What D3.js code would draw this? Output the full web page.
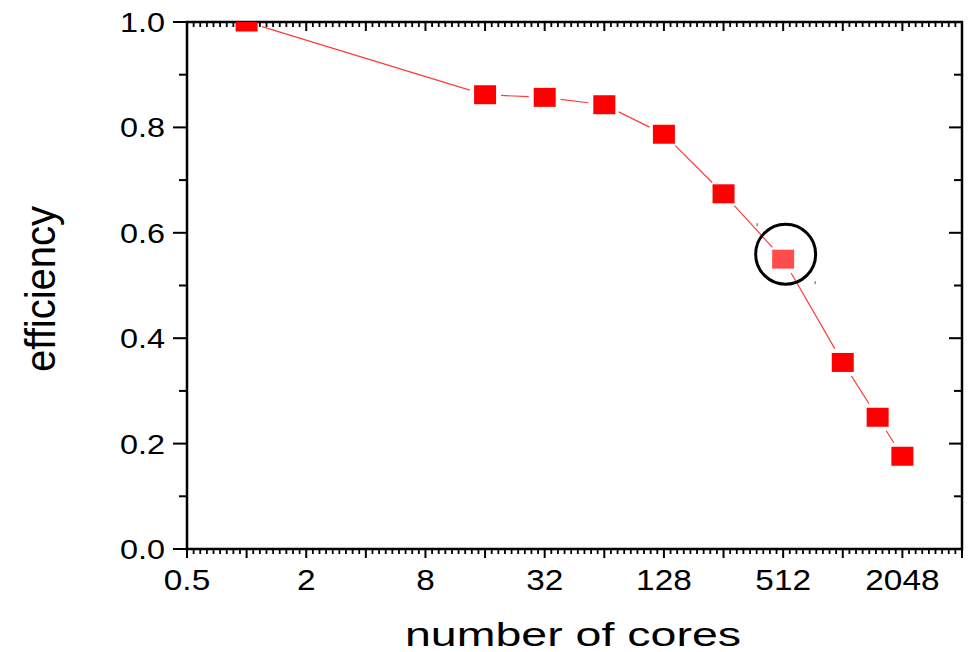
<!DOCTYPE html>
<html>
<head>
<meta charset="utf-8">
<script src="https://cdn.jsdelivr.net/npm/d3@7"></script>
<style>
  html, body { margin: 0; padding: 0; background: #fff; }
  svg { display: block; font-family: "Liberation Sans", Arial, sans-serif; }
</style>
</head>
<body>
<svg id="chart" width="969" height="652"></svg>
<script>
// ---- data ----
const cores = [1, 16, 32, 64, 128, 256, 512, 1024, 1536, 2048];
const efficiency = [1.0, 0.862, 0.857, 0.843, 0.787, 0.674, 0.550, 0.354, 0.250, 0.176];
const highlighted = 512;
const xTickLabels = [0.5, 2, 8, 32, 128, 512, 2048];
const yTickLabels = [0.0, 0.2, 0.4, 0.6, 0.8, 1.0];
const xTitle = "number of cores";
const yTitle = "efficiency";

// ---- layout ----
const L = 187, R = 962, T = 22, B = 549;
const svg = d3.select("#chart");
const x = d3.scaleLog().base(2).domain([0.5, 4096]).range([L, R]);
const y = d3.scaleLinear().domain([0, 1]).range([B, T]);

svg.append("defs").append("clipPath").attr("id", "plotclip")
  .append("rect").attr("x", L).attr("y", T).attr("width", R - L).attr("height", B - T);

// ---- ticks ----
const majorX = d3.range(-1, 13).map(k => Math.pow(2, k));
const minorX = [];
d3.range(-1, 12).forEach(k => { for (let j = 1; j <= 8; j++) minorX.push(Math.pow(2, k + j / 9)); });
const majorY = d3.range(0, 6).map(i => i * 0.2);
const minorY = d3.range(0, 5).map(i => i * 0.2 + 0.1);

const tg = svg.append("g").attr("stroke", "#000").attr("stroke-width", 2);
majorX.forEach(v => tg.append("line").attr("x1", x(v)).attr("x2", x(v)).attr("y1", B).attr("y2", B + 9));
minorX.forEach(v => tg.append("line").attr("x1", x(v)).attr("x2", x(v)).attr("y1", B).attr("y2", B + 5).attr("stroke-width", 1.8));
majorX.forEach(v => tg.append("line").attr("x1", x(v)).attr("x2", x(v)).attr("y1", T).attr("y2", T + 9));
minorX.forEach(v => tg.append("line").attr("x1", x(v)).attr("x2", x(v)).attr("y1", T).attr("y2", T + 5).attr("stroke-width", 1.8));
majorY.forEach(v => tg.append("line").attr("x1", L - 14).attr("x2", L).attr("y1", y(v)).attr("y2", y(v)));
minorY.forEach(v => tg.append("line").attr("x1", L - 8).attr("x2", L).attr("y1", y(v)).attr("y2", y(v)));
majorY.forEach(v => tg.append("line").attr("x1", R - 13).attr("x2", R).attr("y1", y(v)).attr("y2", y(v)));
minorY.forEach(v => tg.append("line").attr("x1", R - 8).attr("x2", R).attr("y1", y(v)).attr("y2", y(v)));

svg.append("rect").attr("x", L).attr("y", T).attr("width", R - L).attr("height", B - T)
  .attr("fill", "none").attr("stroke", "#000").attr("stroke-width", 2.5);

// ---- tick labels ----
svg.append("g").selectAll("text").data(xTickLabels).join("text")
  .attr("transform", d => `translate(${x(d)},590) scale(1.15,1)`)
  .attr("text-anchor", "middle").attr("font-size", 29).attr("fill", "#000")
  .text(d => String(d));
svg.append("g").selectAll("text").data(yTickLabels).join("text")
  .attr("transform", d => `translate(165,${y(d) + 10}) scale(1.2,1)`)
  .attr("text-anchor", "end").attr("font-size", 27).attr("fill", "#000")
  .text(d => d.toFixed(1));

// ---- titles ----
svg.append("text").attr("transform", `translate(573,646) scale(1.41,1)`)
  .attr("text-anchor", "middle").attr("font-size", 33).attr("fill", "#000").text(xTitle);
svg.append("text").attr("transform", `translate(55,289) scale(1.08,1) rotate(-90)`)
  .attr("text-anchor", "middle").attr("font-size", 40).attr("fill", "#000").text(yTitle);

// ---- line with gaps ----
const pts = cores.map((c, i) => [x(c), y(efficiency[i])]);
const gap = 16;
const lg = svg.append("g").attr("clip-path", "url(#plotclip)");
for (let i = 0; i < pts.length - 1; i++) {
  const [x1, y1] = pts[i], [x2, y2] = pts[i + 1];
  const dx = x2 - x1, dy = y2 - y1, len = Math.hypot(dx, dy);
  if (len <= 2 * gap) continue;
  const ux = dx / len, uy = dy / len;
  lg.append("line")
    .attr("x1", x1 + ux * gap).attr("y1", y1 + uy * gap)
    .attr("x2", x2 - ux * gap).attr("y2", y2 - uy * gap)
    .attr("stroke", "#ff3b3b").attr("stroke-width", 1.2);
}

// ---- markers ----
const mw = 22, mh = 19;
lg.selectAll("rect.m").data(cores.map((c, i) => ({ c, e: efficiency[i] }))).join("rect")
  .attr("class", "m")
  .attr("x", d => x(d.c) - mw / 2).attr("y", d => y(d.e) - mh / 2)
  .attr("width", mw).attr("height", mh)
  .attr("fill", d => d.c === highlighted ? "#ff4d4d" : "#ff0000");

// ---- highlight circle ----
const hi = cores.indexOf(highlighted);
svg.append("circle")
  .attr("cx", x(highlighted) + 2.5).attr("cy", y(efficiency[hi]) - 5).attr("r", 30)
  .attr("fill", "none").attr("stroke", "#000").attr("stroke-width", 3);
svg.append("line").attr("x1", x(highlighted) - 26).attr("x2", x(highlighted) - 26)
  .attr("y1", y(efficiency[hi]) - 36).attr("y2", y(efficiency[hi]) - 33)
  .attr("stroke", "#555").attr("stroke-width", 1);
svg.append("line").attr("x1", x(highlighted) + 32).attr("x2", x(highlighted) + 32)
  .attr("y1", y(efficiency[hi]) + 22).attr("y2", y(efficiency[hi]) + 25)
  .attr("stroke", "#555").attr("stroke-width", 1);
</script>
</body>
</html>
